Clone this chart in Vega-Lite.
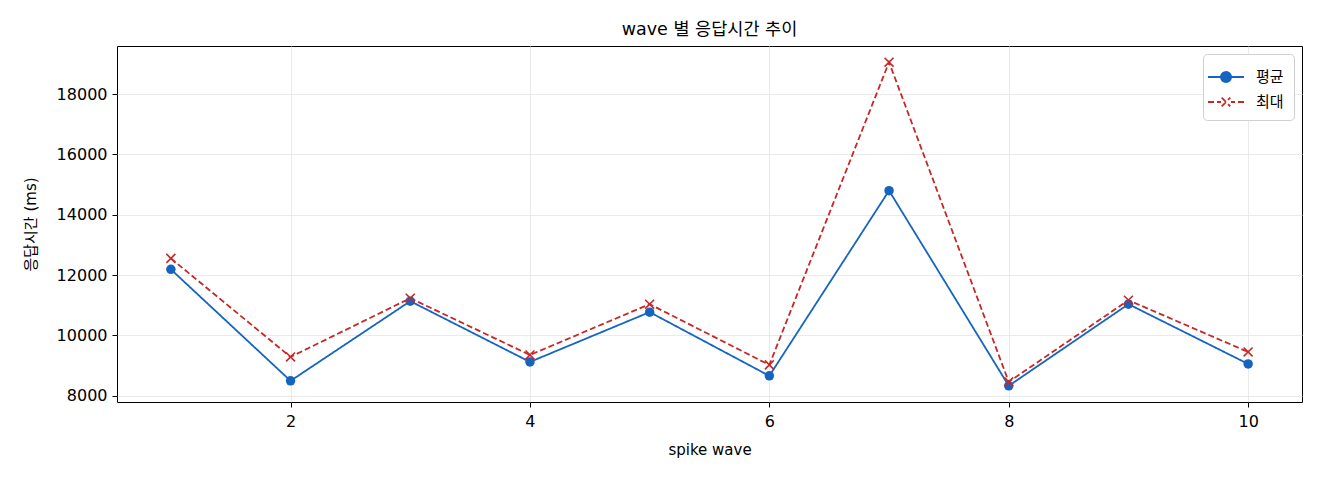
{
  "$schema": "https://vega.github.io/schema/vega-lite/v6.json",
  "autosize": {"type": "none"},
  "padding": {"left": 117, "top": 46, "right": 18, "bottom": 78},
  "width": 1185,
  "height": 356,
  "background": "white",
  "title": {
    "text": "wave 별 응답시간 추이",
    "font": "DejaVu Sans, Noto Sans CJK KR",
    "fontSize": 17.5,
    "fontWeight": "normal",
    "color": "#000000",
    "offset": 8
  },
  "config": {
    "view": {"stroke": "#000000", "strokeWidth": 1},
    "font": "DejaVu Sans, Noto Sans CJK KR",
    "axis": {
      "labelFont": "DejaVu Sans, Noto Sans CJK KR",
      "labelFontSize": 16,
      "labelColor": "#000000",
      "labelPadding": 5,
      "titleFont": "DejaVu Sans, Noto Sans CJK KR",
      "titleFontSize": 15,
      "titleFontWeight": "normal",
      "titleColor": "#000000",
      "gridColor": "#e4e4e4",
      "gridWidth": 0.8,
      "tickColor": "#000000",
      "tickSize": 5,
      "domain": false
    }
  },
  "data": {
    "values": [
      {"wave": 1, "series": "평균", "ms": 12190},
      {"wave": 2, "series": "평균", "ms": 8495},
      {"wave": 3, "series": "평균", "ms": 11135},
      {"wave": 4, "series": "평균", "ms": 9122},
      {"wave": 5, "series": "평균", "ms": 10772},
      {"wave": 6, "series": "평균", "ms": 8660},
      {"wave": 7, "series": "평균", "ms": 14798},
      {"wave": 8, "series": "평균", "ms": 8330},
      {"wave": 9, "series": "평균", "ms": 11036},
      {"wave": 10, "series": "평균", "ms": 9056},
      {"wave": 1, "series": "최대", "ms": 12554},
      {"wave": 2, "series": "최대", "ms": 9287},
      {"wave": 3, "series": "최대", "ms": 11234},
      {"wave": 4, "series": "최대", "ms": 9353},
      {"wave": 5, "series": "최대", "ms": 11036},
      {"wave": 6, "series": "최대", "ms": 9023},
      {"wave": 7, "series": "최대", "ms": 19055},
      {"wave": 8, "series": "최대", "ms": 8462},
      {"wave": 9, "series": "최대", "ms": 11168},
      {"wave": 10, "series": "최대", "ms": 9452}
    ]
  },
  "encoding": {
    "x": {
      "field": "wave",
      "type": "quantitative",
      "title": "spike wave",
      "scale": {"domain": [0.55, 10.45], "nice": false, "zero": false},
      "axis": {"values": [2, 4, 6, 8, 10], "labelPadding": 6, "titlePadding": 13}
    },
    "y": {
      "field": "ms",
      "type": "quantitative",
      "title": "응답시간 (ms)",
      "scale": {"domain": [7794, 19591], "nice": false, "zero": false},
      "axis": {"values": [8000, 10000, 12000, 14000, 16000, 18000], "format": "d", "titlePadding": 18}
    }
  },
  "layer": [
    {
      "mark": {"type": "line", "strokeWidth": 1.8},
      "encoding": {
        "color": {
          "field": "series",
          "type": "nominal",
          "scale": {"domain": ["평균", "최대"], "range": ["#1565c0", "#c62828"]},
          "legend": {
            "title": null,
            "orient": "top-right",
            "offset": 8,
            "fillColor": "white",
            "strokeColor": "#d0d0d0",
            "cornerRadius": 4,
            "padding": 10,
            "labelFont": "Noto Sans CJK KR",
            "labelFontSize": 15,
            "labelColor": "#000000",
            "labelOffset": 17,
            "symbolSize": 576,
            "symbolStrokeWidth": 1.8,
            "rowPadding": 3,
            "encode": {
              "symbols": {
                "update": {
                  "shape": {"signal": "datum.value === '평균' ? 'M-1.5,0H1.5M-0.42,0A0.42,0.42 0 1,1 0.42,0A0.42,0.42 0 1,1 -0.42,0' : 'M-1.5,0H-1.0M-0.75,0H-0.42M0.42,0H0.75M1.0,0H1.5M-0.36,-0.36L0.36,0.36M-0.36,0.36L0.36,-0.36'"},
                  "fill": {"signal": "datum.value === '평균' ? '#1565c0' : 'transparent'"},
                  "strokeDash": {"value": []}
                }
              }
            }
          }
        },
        "strokeDash": {
          "field": "series",
          "type": "nominal",
          "scale": {"domain": ["평균", "최대"], "range": [[1, 0], [6, 3]]},
          "legend": null
        }
      }
    },
    {
      "transform": [{"filter": "datum.series === '평균'"}],
      "mark": {"type": "point", "shape": "circle", "filled": true, "size": 90, "color": "#1565c0", "opacity": 1}
    },
    {
      "transform": [{"filter": "datum.series === '최대'"}],
      "mark": {"type": "point", "shape": "M-1,-1L1,1M-1,1L1,-1", "filled": false, "size": 80, "strokeWidth": 1.6, "color": "#c62828", "opacity": 1}
    }
  ]
}
